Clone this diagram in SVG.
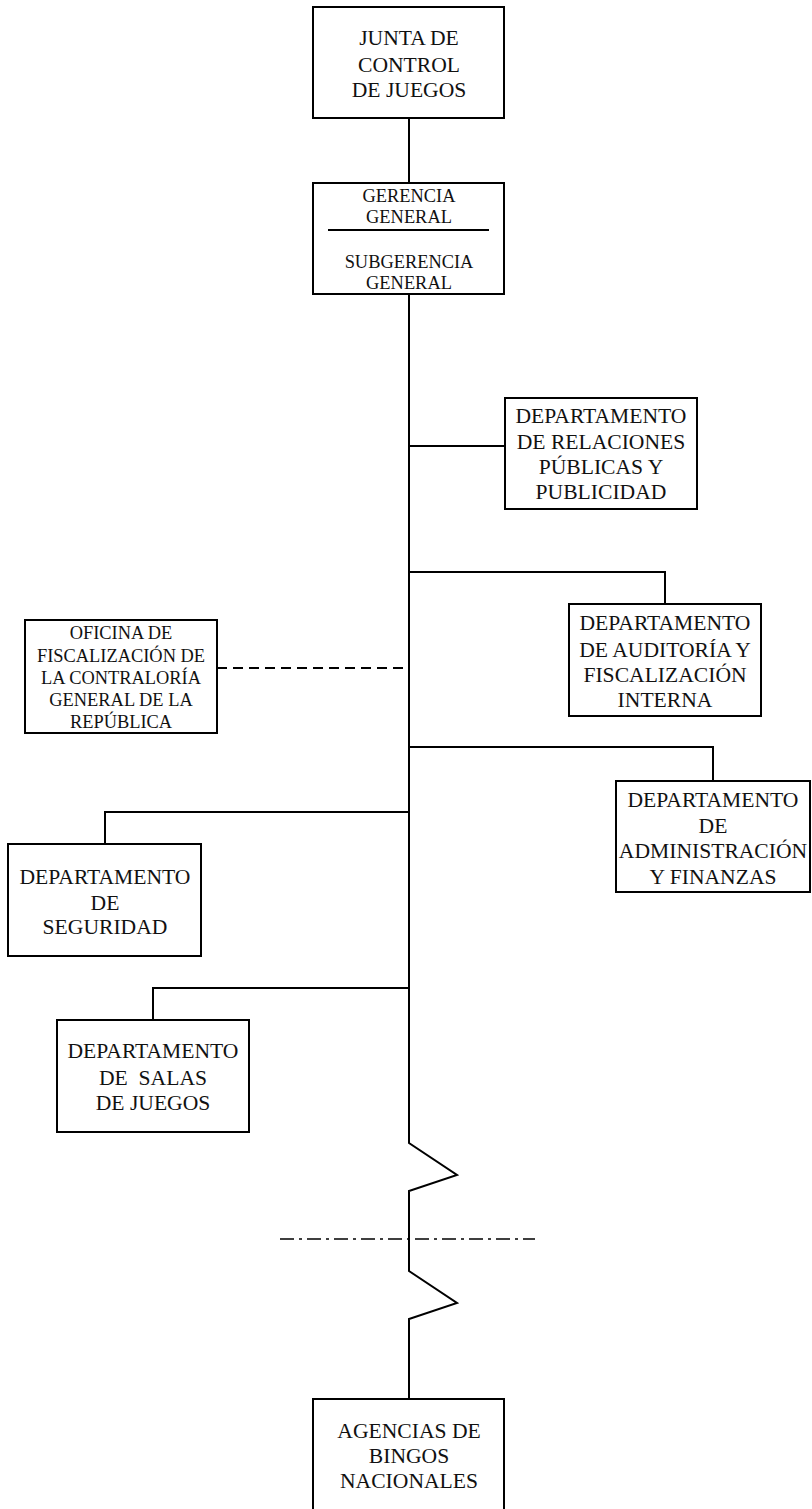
<svg xmlns="http://www.w3.org/2000/svg" width="812" height="1509" viewBox="0 0 812 1509">
  <style>
    .box { fill: #ffffff; stroke: #000000; stroke-width: 2; }
    .lbl { font-family: "Liberation Serif", "Times New Roman", serif; font-size: 21.6px; fill: #111111; text-anchor: middle; }
    .sm { font-size: 18.4px; }
    .wire { fill: none; stroke: #000000; stroke-width: 2; }
    .dash { stroke-dasharray: 10 6; }
    .dashdot { stroke-width: 1.6; stroke-dasharray: 14 5 3 5; }
  </style>
  <rect width="812" height="1509" fill="#ffffff"/>

  <!-- connectors -->
  <g id="connectors">
    <line class="wire" x1="409" y1="118" x2="409" y2="183"/>
    <polyline class="wire" points="409,294 409,1143 457,1175 409,1191 409,1271 457,1303 409,1319 409,1399"/>
    <line class="wire" x1="409" y1="446" x2="505" y2="446"/>
    <polyline class="wire" points="409,572 665,572 665,604"/>
    <line class="wire dash" x1="217" y1="668" x2="409" y2="668"/>
    <polyline class="wire" points="409,747 713,747 713,781"/>
    <polyline class="wire" points="409,812 105,812 105,844"/>
    <polyline class="wire" points="409,988 153,988 153,1020"/>
    <line class="wire dashdot" x1="280" y1="1239" x2="535" y2="1239"/>
  </g>

  <g id="junta">
    <rect class="box" x="313" y="7" width="191" height="111"/>
    <text class="lbl" x="409" y="45">JUNTA DE</text>
    <text class="lbl" x="409" y="72">CONTROL</text>
    <text class="lbl" x="409" y="97">DE JUEGOS</text>
  </g>

  <g id="gerencia">
    <rect class="box" x="313" y="183" width="191" height="111"/>
    <text class="lbl sm" x="409" y="202">GERENCIA</text>
    <text class="lbl sm" x="409" y="223">GENERAL</text>
    <line class="wire" x1="328" y1="230" x2="489" y2="230"/>
    <text class="lbl sm" x="409" y="268">SUBGERENCIA</text>
    <text class="lbl sm" x="409" y="289">GENERAL</text>
  </g>

  <g id="relaciones">
    <rect class="box" x="505" y="398" width="192" height="111"/>
    <text class="lbl" x="601" y="423">DEPARTAMENTO</text>
    <text class="lbl" x="601" y="449">DE RELACIONES</text>
    <text class="lbl" x="601" y="474">PÚBLICAS Y</text>
    <text class="lbl" x="601" y="499">PUBLICIDAD</text>
  </g>

  <g id="auditoria">
    <rect class="box" x="569" y="604" width="192" height="112"/>
    <text class="lbl" x="665" y="630">DEPARTAMENTO</text>
    <text class="lbl" x="665" y="657">DE AUDITORÍA Y</text>
    <text class="lbl" x="665" y="682">FISCALIZACIÓN</text>
    <text class="lbl" x="665" y="707">INTERNA</text>
  </g>

  <g id="contraloria">
    <rect class="box" x="25" y="620" width="192" height="113"/>
    <text class="lbl sm" x="121" y="639">OFICINA DE</text>
    <text class="lbl sm" x="121" y="662">FISCALIZACIÓN DE</text>
    <text class="lbl sm" x="121" y="684">LA CONTRALORÍA</text>
    <text class="lbl sm" x="121" y="706">GENERAL DE LA</text>
    <text class="lbl sm" x="121" y="728">REPÚBLICA</text>
  </g>

  <g id="administracion">
    <rect class="box" x="616" y="781" width="194" height="111"/>
    <text class="lbl" x="713" y="807">DEPARTAMENTO</text>
    <text class="lbl" x="713" y="833">DE</text>
    <text class="lbl" x="713" y="858">ADMINISTRACIÓN</text>
    <text class="lbl" x="713" y="884">Y FINANZAS</text>
  </g>

  <g id="seguridad">
    <rect class="box" x="8" y="844" width="193" height="112"/>
    <text class="lbl" x="105" y="884">DEPARTAMENTO</text>
    <text class="lbl" x="105" y="910">DE</text>
    <text class="lbl" x="105" y="934">SEGURIDAD</text>
  </g>

  <g id="salas">
    <rect class="box" x="57" y="1020" width="192" height="112"/>
    <text class="lbl" x="153" y="1058">DEPARTAMENTO</text>
    <text class="lbl" x="153" y="1085" xml:space="preserve">DE  SALAS</text>
    <text class="lbl" x="153" y="1110">DE JUEGOS</text>
  </g>

  <g id="agencias">
    <rect class="box" x="313" y="1399" width="191" height="120"/>
    <text class="lbl" x="409" y="1438">AGENCIAS DE</text>
    <text class="lbl" x="409" y="1463">BINGOS</text>
    <text class="lbl" x="409" y="1488">NACIONALES</text>
  </g>
</svg>
